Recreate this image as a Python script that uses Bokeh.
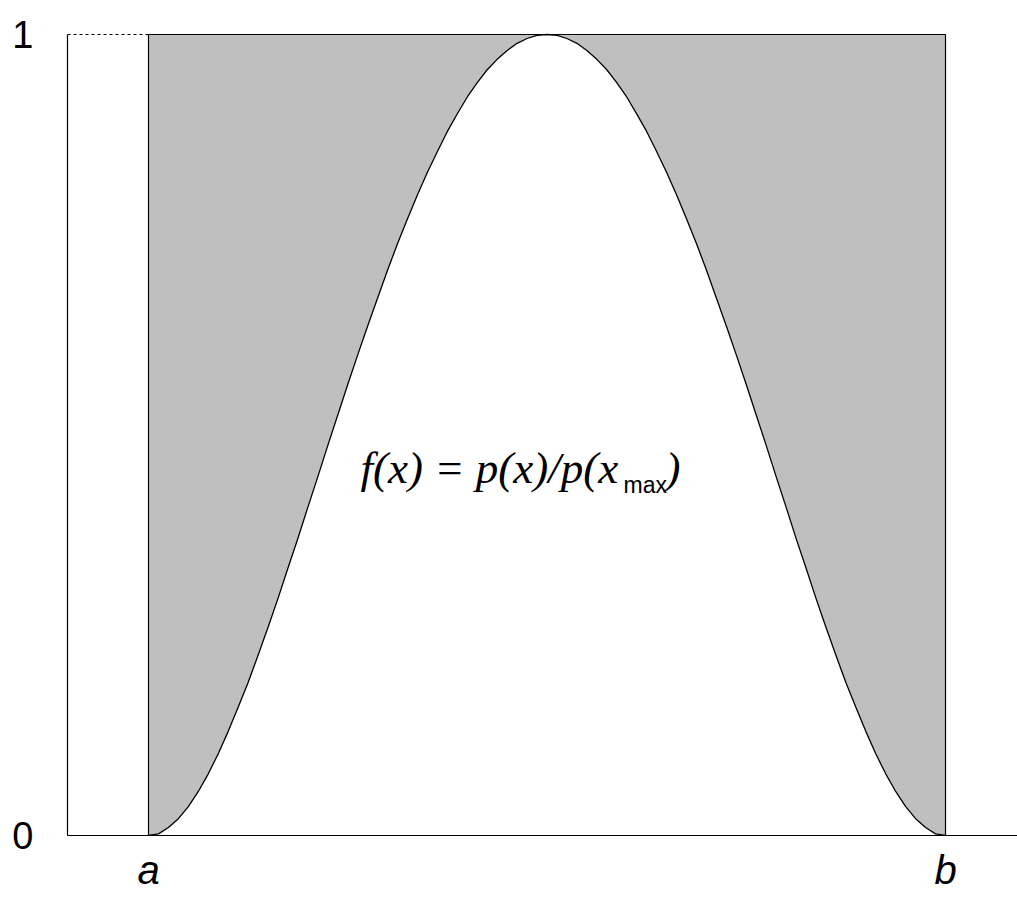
from bokeh.plotting import figure
from bokeh.models import Range1d, FixedTicker, ColumnDataSource
from bokeh.core.properties import value
from bokeh.embed import file_html
from bokeh.resources import INLINE

# Interval [a, b] mapped to [0, 1]
tick_pos = [0, 1]
tick_labels = ["a", "b"]
y_ticks = [0, 1]

# Normalised density f(x) = p(x)/p(x_max), sampled across [a, b]
xs = [i / 80 for i in range(81)]
fs = [0.000, 0.002, 0.010, 0.021, 0.036, 0.055, 0.077, 0.102, 0.130, 0.160,
      0.191, 0.225, 0.260, 0.296, 0.334, 0.371, 0.410, 0.448, 0.487, 0.525,
      0.563, 0.600, 0.636, 0.671, 0.706, 0.739, 0.770, 0.800, 0.828, 0.854,
      0.879, 0.901, 0.922, 0.940, 0.956, 0.969, 0.980, 0.989, 0.995, 0.999,
      1.000,
      0.999, 0.995, 0.989, 0.980, 0.969, 0.956, 0.940, 0.922, 0.901, 0.879,
      0.854, 0.828, 0.800, 0.770, 0.739, 0.706, 0.671, 0.636, 0.600, 0.563,
      0.525, 0.487, 0.448, 0.410, 0.371, 0.334, 0.296, 0.260, 0.225, 0.191,
      0.160, 0.130, 0.102, 0.077, 0.055, 0.036, 0.021, 0.010, 0.002, 0.000]

formula_main = "f(x) = p(x)/p(x"
formula_sub = "max"
formula_close = ")"

X0 = -81 / 797
X1 = X0 + 950 / 797
Y1 = 835 / 801

p = figure(width=1017, height=901, output_backend="svg", toolbar_location=None,
           x_range=Range1d(X0, X1), y_range=Range1d(0, Y1),
           min_border_left=67, min_border_right=0, min_border_top=0,
           min_border_bottom=66)
p.outline_line_color = None
p.xgrid.visible = False
p.ygrid.visible = False
p.background_fill_color = "white"

# axes
xa = p.xaxis[0]
xa.ticker = FixedTicker(ticks=tick_pos)
xa.major_label_overrides = {t: s for t, s in zip(tick_pos, tick_labels)}
xa.major_tick_line_color = None
xa.minor_tick_line_color = None
xa.major_tick_out = 0
xa.major_tick_in = 0
xa.axis_line_color = "black"
xa.axis_line_width = 1.2
xa.major_label_text_font = "Liberation Sans"
xa.major_label_text_font_style = "italic"
xa.major_label_text_font_size = "40px"
xa.major_label_text_color = "black"
xa.major_label_standoff = 12

ya = p.yaxis[0]
ya.ticker = FixedTicker(ticks=y_ticks)
ya.major_tick_line_color = None
ya.minor_tick_line_color = None
ya.major_tick_out = 0
ya.major_tick_in = 0
ya.axis_line_color = "black"
ya.axis_line_width = 1.2
ya.bounds = (0, 1)
ya.major_label_text_font = "Liberation Sans"
ya.major_label_text_font_size = "38px"
ya.major_label_text_color = "black"
ya.major_label_standoff = 34

# bounding box [a, b] x [0, 1]
p.quad(left=[0], right=[1], bottom=[0], top=[1], fill_color="#bfbfbf",
       line_color="black", line_width=1.2)

src = ColumnDataSource(data=dict(x=xs, f=fs))
p.varea(x="x", y1=0, y2="f", source=src, fill_color="white")
p.line(x="x", y="f", source=src, line_color="black", line_width=1.3,
       line_join="round")

# dotted guide at y = 1
p.segment(x0=[X0], y0=[1], x1=[0], y1=[1], line_color="black",
          line_dash="3 3", line_width=1)

# formula label: main part, subscript, closing parenthesis
p.text(x=[0.266], y=[0.4594], text=[formula_main],
       text_font=value("Liberation Serif"), text_font_style="italic",
       text_font_size="45px", text_align="left", text_baseline="alphabetic",
       text_color="black")
p.text(x=[0.596], y=[0.4375], text=[formula_sub],
       text_font=value("Liberation Sans"), text_font_size="23px",
       text_align="left", text_baseline="alphabetic", text_color="black")
p.text(x=[0.6487], y=[0.4594], text=[formula_close],
       text_font=value("Liberation Serif"), text_font_style="italic",
       text_font_size="45px", text_align="left", text_baseline="alphabetic",
       text_color="black")

open("out.html", "w").write(file_html(p, INLINE))
